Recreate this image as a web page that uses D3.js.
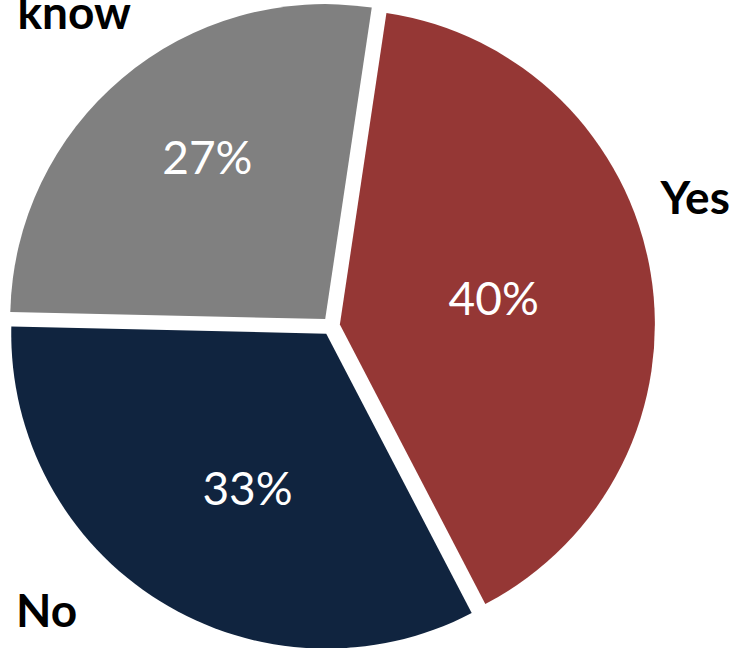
<!DOCTYPE html>
<html>
<head>
<meta charset="utf-8">
<script src="https://d3js.org/d3.v7.min.js"></script>
<style>
  body { margin: 0; background: white; }
  svg { display: block; }
</style>
</head>
<body>
<div id="chart"></div>
<script>

// data
var categories = ["Yes", "No", "Don't know"];
var shares = [40, 33, 27];
var colors = ["#953735", "#10243F", "#808080"];

function createChart() {

    var width = 734;
    var height = 648;

    var cx = 331;
    var cy = 326;
    var radius = 315;
    var explode = 9;

    // outside labels: [angle deg, distance] of the last line's baseline
    var outsideLabel = [[72.9, 381], [223.4, 414], [319.2, 393]];
    // percent labels: distance from the slice tip and angle nudge (deg)
    var pctDist = [156, 174, 200];
    var pctNudge = [0, -5, 4];

    var svg = d3.select("#chart").append("svg")
        .attr("width", width)
        .attr("height", height);

    var pie = d3.pie()
        .sort(null)
        .value(function(d) { return d; })
        .startAngle(8.5 * Math.PI / 180)
        .endAngle(368.5 * Math.PI / 180);

    var arcs = pie(shares);

    var arc = d3.arc()
        .innerRadius(0)
        .outerRadius(radius);

    function midAngle(d) {
        return (d.startAngle + d.endAngle) / 2;
    }

    var slices = svg.append("g")
        .attr("transform", "translate(" + cx + "," + cy + ")");

    var slice = slices.selectAll("g")
        .data(arcs)
        .enter().append("g")
        .attr("transform", function(d) {
            var a = midAngle(d);
            return "translate(" + (Math.sin(a) * explode) + "," + (-Math.cos(a) * explode) + ")";
        });

    slice.append("path")
        .attr("d", arc)
        .attr("fill", function(d, i) { return colors[i]; });

    slice.append("text")
        .attr("x", function(d, i) { return Math.sin(midAngle(d) + pctNudge[i] * Math.PI / 180) * pctDist[i]; })
        .attr("y", function(d, i) { return -Math.cos(midAngle(d) + pctNudge[i] * Math.PI / 180) * pctDist[i]; })
        .attr("dy", "0.35em")
        .attr("text-anchor", "middle")
        .attr("fill", "white")
        .style("font-family", "Lato, 'Open Sans', sans-serif")
        .style("font-size", "46px")
        .text(function(d, i) { return shares[i] + "%"; });

    var labels = slices.selectAll("text.cat")
        .data(categories)
        .enter().append("text")
        .attr("class", "cat")
        .attr("text-anchor", "middle")
        .attr("fill", "black")
        .style("font-family", "Lato, 'Open Sans', sans-serif")
        .style("font-weight", "bold")
        .style("font-size", "46px")
        .attr("transform", function(d, i) {
            var a = outsideLabel[i][0] * Math.PI / 180;
            var r = outsideLabel[i][1];
            return "translate(" + (Math.sin(a) * r) + "," + (-Math.cos(a) * r) + ")";
        });

    labels.each(function(d) {
        var words = d.split(" ");
        var t = d3.select(this);
        words.forEach(function(w, j) {
            t.append("tspan")
                .attr("x", 0)
                .attr("y", (j - (words.length - 1)) * 50)
                .text(w);
        });
    });
}

createChart();
</script>
</body>
</html>
